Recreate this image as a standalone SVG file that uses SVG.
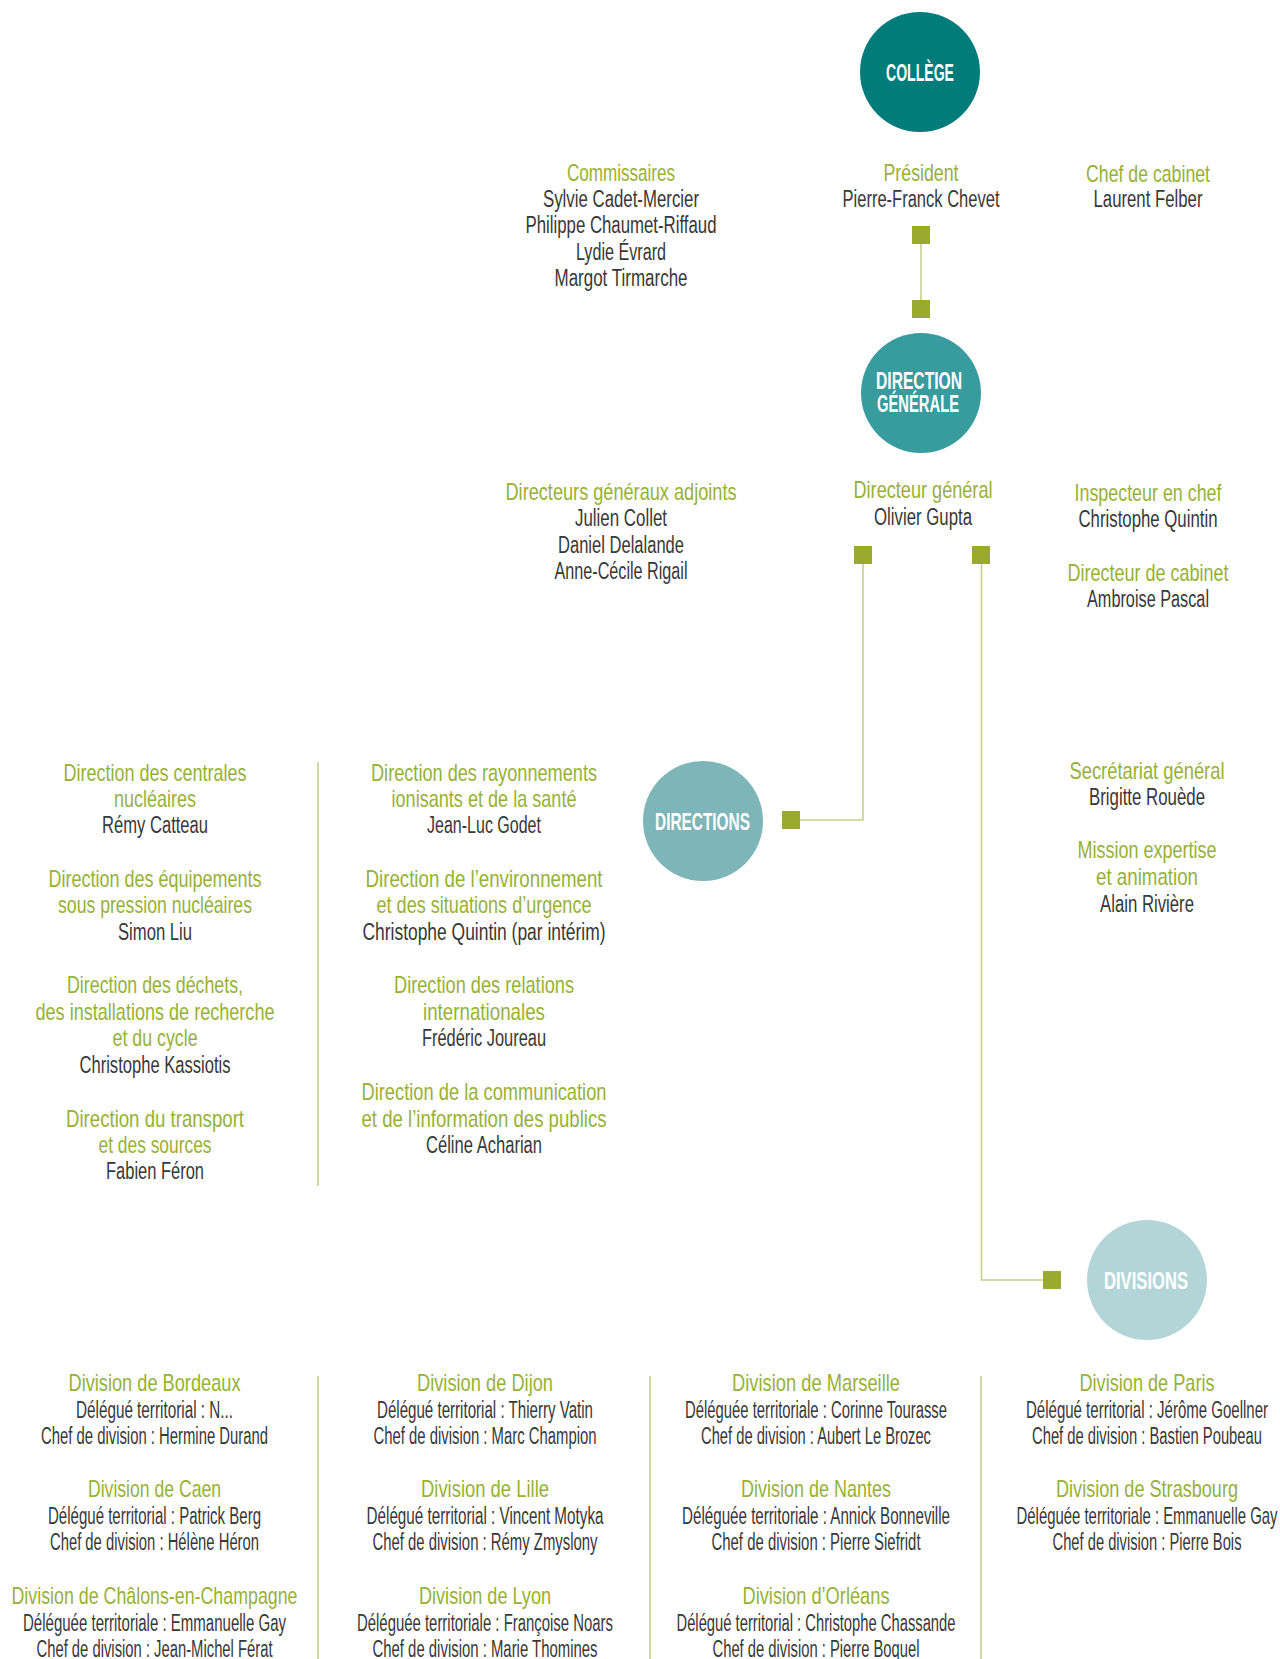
<svg xmlns="http://www.w3.org/2000/svg" width="1280" height="1659" viewBox="0 0 1280 1659">
<style>
text{font-family:"Liberation Sans",Arial,sans-serif;font-size:23px;text-anchor:middle}
.t{fill:#97b136}
.n{fill:#383838}
.c{fill:#ffffff;font-weight:bold}
.sq{fill:#99aa2f}
.ln{stroke:#c5d08c;stroke-width:1.6;fill:none}
.sep{stroke:#c5d08c;stroke-width:1.6}
</style>
<rect width="1280" height="1659" fill="#ffffff"/>

<g id="connectors">
<line class="ln" x1="921" y1="244" x2="921" y2="300"/>
<polyline class="ln" points="863,564 863,820 800,820"/>
<polyline class="ln" points="981.5,564 981.5,1280 1043,1280"/>
<rect class="sq" x="912" y="226" width="18" height="18"/>
<rect class="sq" x="912" y="300" width="18" height="18"/>
<rect class="sq" x="854" y="546" width="18" height="18"/>
<rect class="sq" x="972" y="546" width="18" height="18"/>
<rect class="sq" x="782" y="811" width="18" height="18"/>
<rect class="sq" x="1043" y="1271" width="18" height="18"/>
</g>

<g id="separators">
<line class="sep" x1="318" y1="762" x2="318" y2="1186"/>
<line class="sep" x1="318" y1="1376" x2="318" y2="1659"/>
<line class="sep" x1="650" y1="1376" x2="650" y2="1659"/>
<line class="sep" x1="981" y1="1376" x2="981" y2="1659"/>
</g>

<g id="college">
<circle cx="920" cy="72" r="60" fill="#027b7b"/>
<text class="c" transform="translate(920 81) scale(0.62 1)" textLength="109.7" lengthAdjust="spacingAndGlyphs">COLLÈGE</text>
</g>

<g id="direction-generale">
<circle cx="921" cy="393" r="60" fill="#389c9e"/>
<text class="c" transform="translate(919 389) scale(0.62 1)" textLength="138.7" lengthAdjust="spacingAndGlyphs">DIRECTION</text>
<text class="c" transform="translate(918 412) scale(0.62 1)" textLength="132.3" lengthAdjust="spacingAndGlyphs">GÉNÉRALE</text>
</g>

<g id="directions">
<circle cx="703" cy="821" r="60" fill="#7db5b8"/>
<text class="c" transform="translate(702.5 830) scale(0.62 1)" textLength="153.2" lengthAdjust="spacingAndGlyphs">DIRECTIONS</text>
</g>

<g id="divisions">
<circle cx="1147" cy="1280" r="60" fill="#b4d5d7"/>
<text class="c" transform="translate(1146 1289) scale(0.62 1)" textLength="135.5" lengthAdjust="spacingAndGlyphs">DIVISIONS</text>
</g>

<g id="commissaires">
<text class="t" transform="translate(621 181) scale(0.72 1)" textLength="150" lengthAdjust="spacingAndGlyphs">Commissaires</text>
<text class="n" transform="translate(621 207) scale(0.68 1)" textLength="229.4" lengthAdjust="spacingAndGlyphs">Sylvie Cadet-Mercier</text>
<text class="n" transform="translate(621 233) scale(0.68 1)" textLength="280.9" lengthAdjust="spacingAndGlyphs">Philippe Chaumet-Riffaud</text>
<text class="n" transform="translate(621 260) scale(0.68 1)" textLength="132.4" lengthAdjust="spacingAndGlyphs">Lydie Évrard</text>
<text class="n" transform="translate(621 286) scale(0.68 1)" textLength="195.6" lengthAdjust="spacingAndGlyphs">Margot Tirmarche</text>
</g>

<g id="president">
<text class="t" transform="translate(921 181) scale(0.72 1)" textLength="104.2" lengthAdjust="spacingAndGlyphs">Président</text>
<text class="n" transform="translate(921 207) scale(0.68 1)" textLength="230.9" lengthAdjust="spacingAndGlyphs">Pierre-Franck Chevet</text>
</g>

<g id="chef-de-cabinet">
<text class="t" transform="translate(1148 182) scale(0.72 1)" textLength="172.2" lengthAdjust="spacingAndGlyphs">Chef de cabinet</text>
<text class="n" transform="translate(1148 207) scale(0.68 1)" textLength="160.3" lengthAdjust="spacingAndGlyphs">Laurent Felber</text>
</g>

<g id="directeurs-generaux-adjoints">
<text class="t" transform="translate(621 500) scale(0.72 1)" textLength="320.8" lengthAdjust="spacingAndGlyphs">Directeurs généraux adjoints</text>
<text class="n" transform="translate(621 526) scale(0.68 1)" textLength="135.3" lengthAdjust="spacingAndGlyphs">Julien Collet</text>
<text class="n" transform="translate(621 553) scale(0.68 1)" textLength="185.3" lengthAdjust="spacingAndGlyphs">Daniel Delalande</text>
<text class="n" transform="translate(621 579) scale(0.68 1)" textLength="195.6" lengthAdjust="spacingAndGlyphs">Anne-Cécile Rigail</text>
</g>

<g id="directeur-general">
<text class="t" transform="translate(923 498) scale(0.72 1)" textLength="193.1" lengthAdjust="spacingAndGlyphs">Directeur général</text>
<text class="n" transform="translate(923 525) scale(0.68 1)" textLength="144.1" lengthAdjust="spacingAndGlyphs">Olivier Gupta</text>
</g>

<g id="inspecteur-en-chef">
<text class="t" transform="translate(1148 501) scale(0.72 1)" textLength="204.2" lengthAdjust="spacingAndGlyphs">Inspecteur en chef</text>
<text class="n" transform="translate(1148 527) scale(0.68 1)" textLength="204.4" lengthAdjust="spacingAndGlyphs">Christophe Quintin</text>
</g>

<g id="directeur-de-cabinet">
<text class="t" transform="translate(1148 581) scale(0.72 1)" textLength="223.6" lengthAdjust="spacingAndGlyphs">Directeur de cabinet</text>
<text class="n" transform="translate(1148 607) scale(0.68 1)" textLength="179.4" lengthAdjust="spacingAndGlyphs">Ambroise Pascal</text>
</g>

<g id="dir-centrales">
<text class="t" transform="translate(155 781) scale(0.72 1)" textLength="254.2" lengthAdjust="spacingAndGlyphs">Direction des centrales</text>
<text class="t" transform="translate(155 807) scale(0.72 1)" textLength="113.9" lengthAdjust="spacingAndGlyphs">nucléaires</text>
<text class="n" transform="translate(155 833) scale(0.68 1)" textLength="155.9" lengthAdjust="spacingAndGlyphs">Rémy Catteau</text>
</g>
<g id="dir-equipements">
<text class="t" transform="translate(155 887) scale(0.72 1)" textLength="295.8" lengthAdjust="spacingAndGlyphs">Direction des équipements</text>
<text class="t" transform="translate(155 913) scale(0.72 1)" textLength="269.4" lengthAdjust="spacingAndGlyphs">sous pression nucléaires</text>
<text class="n" transform="translate(155 940) scale(0.68 1)" textLength="108.8" lengthAdjust="spacingAndGlyphs">Simon Liu</text>
</g>
<g id="dir-dechets">
<text class="t" transform="translate(155 993) scale(0.72 1)" textLength="244.4" lengthAdjust="spacingAndGlyphs">Direction des déchets,</text>
<text class="t" transform="translate(155 1020) scale(0.72 1)" textLength="331.9" lengthAdjust="spacingAndGlyphs">des installations de recherche</text>
<text class="t" transform="translate(155 1046) scale(0.72 1)" textLength="118.1" lengthAdjust="spacingAndGlyphs">et du cycle</text>
<text class="n" transform="translate(155 1073) scale(0.68 1)" textLength="222.1" lengthAdjust="spacingAndGlyphs">Christophe Kassiotis</text>
</g>
<g id="dir-transport">
<text class="t" transform="translate(155 1127) scale(0.72 1)" textLength="247.2" lengthAdjust="spacingAndGlyphs">Direction du transport</text>
<text class="t" transform="translate(155 1153) scale(0.72 1)" textLength="156.9" lengthAdjust="spacingAndGlyphs">et des sources</text>
<text class="n" transform="translate(155 1179) scale(0.68 1)" textLength="144.1" lengthAdjust="spacingAndGlyphs">Fabien Féron</text>
</g>

<g id="dir-rayonnements">
<text class="t" transform="translate(484 781) scale(0.72 1)" textLength="313.9" lengthAdjust="spacingAndGlyphs">Direction des rayonnements</text>
<text class="t" transform="translate(484 807) scale(0.72 1)" textLength="256.9" lengthAdjust="spacingAndGlyphs">ionisants et de la santé</text>
<text class="n" transform="translate(484 833) scale(0.68 1)" textLength="167.6" lengthAdjust="spacingAndGlyphs">Jean-Luc Godet</text>
</g>
<g id="dir-environnement">
<text class="t" transform="translate(484 887) scale(0.72 1)" textLength="329.2" lengthAdjust="spacingAndGlyphs">Direction de l’environnement</text>
<text class="t" transform="translate(484 913) scale(0.72 1)" textLength="298.6" lengthAdjust="spacingAndGlyphs">et des situations d’urgence</text>
<text class="n" transform="translate(484 940) scale(0.68 1)" textLength="357.4" lengthAdjust="spacingAndGlyphs">Christophe Quintin (par intérim)</text>
</g>
<g id="dir-relations">
<text class="t" transform="translate(484 993) scale(0.72 1)" textLength="250" lengthAdjust="spacingAndGlyphs">Direction des relations</text>
<text class="t" transform="translate(484 1020) scale(0.72 1)" textLength="169.4" lengthAdjust="spacingAndGlyphs">internationales</text>
<text class="n" transform="translate(484 1046) scale(0.68 1)" textLength="182.4" lengthAdjust="spacingAndGlyphs">Frédéric Joureau</text>
</g>
<g id="dir-communication">
<text class="t" transform="translate(484 1100) scale(0.72 1)" textLength="340.3" lengthAdjust="spacingAndGlyphs">Direction de la communication</text>
<text class="t" transform="translate(484 1127) scale(0.72 1)" textLength="340.3" lengthAdjust="spacingAndGlyphs">et de l’information des publics</text>
<text class="n" transform="translate(484 1153) scale(0.68 1)" textLength="170.6" lengthAdjust="spacingAndGlyphs">Céline Acharian</text>
</g>

<g id="secretariat-general">
<text class="t" transform="translate(1147 779) scale(0.72 1)" textLength="215.3" lengthAdjust="spacingAndGlyphs">Secrétariat général</text>
<text class="n" transform="translate(1147 805) scale(0.68 1)" textLength="170.6" lengthAdjust="spacingAndGlyphs">Brigitte Rouède</text>
</g>
<g id="mission-expertise">
<text class="t" transform="translate(1147 858) scale(0.72 1)" textLength="193.1" lengthAdjust="spacingAndGlyphs">Mission expertise</text>
<text class="t" transform="translate(1147 885) scale(0.72 1)" textLength="141.7" lengthAdjust="spacingAndGlyphs">et animation</text>
<text class="n" transform="translate(1147 912) scale(0.68 1)" textLength="138.2" lengthAdjust="spacingAndGlyphs">Alain Rivière</text>
</g>

<g id="div-bordeaux">
<text class="t" transform="translate(154.5 1391) scale(0.8 1)" textLength="215" lengthAdjust="spacingAndGlyphs">Division de Bordeaux</text>
<text class="n" transform="translate(154.5 1418) scale(0.68 1)" textLength="230.9" lengthAdjust="spacingAndGlyphs">Délégué territorial : N...</text>
<text class="n" transform="translate(154.5 1444) scale(0.68 1)" textLength="333.8" lengthAdjust="spacingAndGlyphs">Chef de division : Hermine Durand</text>
</g>
<g id="div-caen">
<text class="t" transform="translate(154.5 1497) scale(0.8 1)" textLength="166.3" lengthAdjust="spacingAndGlyphs">Division de Caen</text>
<text class="n" transform="translate(154.5 1524) scale(0.68 1)" textLength="313.2" lengthAdjust="spacingAndGlyphs">Délégué territorial : Patrick Berg</text>
<text class="n" transform="translate(154.5 1550) scale(0.68 1)" textLength="307.4" lengthAdjust="spacingAndGlyphs">Chef de division : Hélène Héron</text>
</g>
<g id="div-chalons">
<text class="t" transform="translate(154.5 1604) scale(0.8 1)" textLength="357.5" lengthAdjust="spacingAndGlyphs">Division de Châlons-en-Champagne</text>
<text class="n" transform="translate(154.5 1631) scale(0.68 1)" textLength="386.8" lengthAdjust="spacingAndGlyphs">Déléguée territoriale : Emmanuelle Gay</text>
<text class="n" transform="translate(154.5 1657) scale(0.68 1)" textLength="347.1" lengthAdjust="spacingAndGlyphs">Chef de division : Jean-Michel Férat</text>
</g>

<g id="div-dijon">
<text class="t" transform="translate(485 1391) scale(0.8 1)" textLength="170" lengthAdjust="spacingAndGlyphs">Division de Dijon</text>
<text class="n" transform="translate(485 1418) scale(0.68 1)" textLength="317.6" lengthAdjust="spacingAndGlyphs">Délégué territorial : Thierry Vatin</text>
<text class="n" transform="translate(485 1444) scale(0.68 1)" textLength="327.9" lengthAdjust="spacingAndGlyphs">Chef de division : Marc Champion</text>
</g>
<g id="div-lille">
<text class="t" transform="translate(485 1497) scale(0.8 1)" textLength="160" lengthAdjust="spacingAndGlyphs">Division de Lille</text>
<text class="n" transform="translate(485 1524) scale(0.68 1)" textLength="348.5" lengthAdjust="spacingAndGlyphs">Délégué territorial : Vincent Motyka</text>
<text class="n" transform="translate(485 1550) scale(0.68 1)" textLength="330.9" lengthAdjust="spacingAndGlyphs">Chef de division : Rémy Zmyslony</text>
</g>
<g id="div-lyon">
<text class="t" transform="translate(485 1604) scale(0.8 1)" textLength="165" lengthAdjust="spacingAndGlyphs">Division de Lyon</text>
<text class="n" transform="translate(485 1631) scale(0.68 1)" textLength="376.5" lengthAdjust="spacingAndGlyphs">Déléguée territoriale : Françoise Noars</text>
<text class="n" transform="translate(485 1657) scale(0.68 1)" textLength="330.9" lengthAdjust="spacingAndGlyphs">Chef de division : Marie Thomines</text>
</g>

<g id="div-marseille">
<text class="t" transform="translate(816 1391) scale(0.8 1)" textLength="210" lengthAdjust="spacingAndGlyphs">Division de Marseille</text>
<text class="n" transform="translate(816 1418) scale(0.68 1)" textLength="385.3" lengthAdjust="spacingAndGlyphs">Déléguée territoriale : Corinne Tourasse</text>
<text class="n" transform="translate(816 1444) scale(0.68 1)" textLength="338.2" lengthAdjust="spacingAndGlyphs">Chef de division : Aubert Le Brozec</text>
</g>
<g id="div-nantes">
<text class="t" transform="translate(816 1497) scale(0.8 1)" textLength="187.5" lengthAdjust="spacingAndGlyphs">Division de Nantes</text>
<text class="n" transform="translate(816 1524) scale(0.68 1)" textLength="394.1" lengthAdjust="spacingAndGlyphs">Déléguée territoriale : Annick Bonneville</text>
<text class="n" transform="translate(816 1550) scale(0.68 1)" textLength="307.4" lengthAdjust="spacingAndGlyphs">Chef de division : Pierre Siefridt</text>
</g>
<g id="div-orleans">
<text class="t" transform="translate(816 1604) scale(0.8 1)" textLength="183.8" lengthAdjust="spacingAndGlyphs">Division d’Orléans</text>
<text class="n" transform="translate(816 1631) scale(0.68 1)" textLength="410.3" lengthAdjust="spacingAndGlyphs">Délégué territorial : Christophe Chassande</text>
<text class="n" transform="translate(816 1657) scale(0.68 1)" textLength="304.4" lengthAdjust="spacingAndGlyphs">Chef de division : Pierre Boquel</text>
</g>

<g id="div-paris">
<text class="t" transform="translate(1147 1391) scale(0.8 1)" textLength="168.8" lengthAdjust="spacingAndGlyphs">Division de Paris</text>
<text class="n" transform="translate(1147 1418) scale(0.68 1)" textLength="355.9" lengthAdjust="spacingAndGlyphs">Délégué territorial : Jérôme Goellner</text>
<text class="n" transform="translate(1147 1444) scale(0.68 1)" textLength="338.2" lengthAdjust="spacingAndGlyphs">Chef de division : Bastien Poubeau</text>
</g>
<g id="div-strasbourg">
<text class="t" transform="translate(1147 1497) scale(0.8 1)" textLength="227.5" lengthAdjust="spacingAndGlyphs">Division de Strasbourg</text>
<text class="n" transform="translate(1147 1524) scale(0.64 1)" textLength="407.8" lengthAdjust="spacingAndGlyphs">Déléguée territoriale : Emmanuelle Gay</text>
<text class="n" transform="translate(1147 1550) scale(0.68 1)" textLength="277.9" lengthAdjust="spacingAndGlyphs">Chef de division : Pierre Bois</text>
</g>
</svg>
